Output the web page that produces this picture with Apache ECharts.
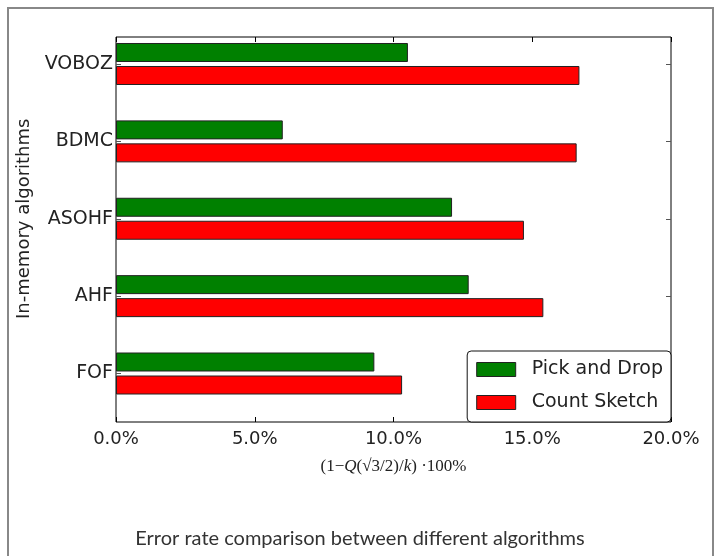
<!DOCTYPE html>
<html>
<head>
<meta charset="utf-8">
<script src="https://cdn.jsdelivr.net/npm/echarts@6/dist/echarts.min.js"></script>
<style>html,body{margin:0;padding:0;background:#fff;}#c{width:720px;height:556px;}</style>
</head>
<body>
<div id="c"></div>
<script>
const categories = ['FOF', 'AHF', 'ASOHF', 'BDMC', 'VOBOZ'];
const pickAndDrop = [9.31, 12.71, 12.11, 6.01, 10.52];
const countSketch = [10.31, 15.40, 14.70, 16.60, 16.70];
const seriesNames = ['Pick and Drop', 'Count Sketch'];
const xTicks = [0, 5, 10, 15, 20];

const chart = echarts.init(document.getElementById('c'), null, {renderer: 'canvas'});
const tickFont = 'DejaVu Sans';
const option = {
  animation: false,
  backgroundColor: '#fff',
  title: {
    text: 'Error rate comparison between different algorithms',
    left: 'center', top: 524,
    textStyle: {fontFamily: 'Lato', fontWeight: 'normal', fontSize: 20, color: '#333'}
  },
  graphic: [{
    type: 'rect', z: -10, silent: true,
    shape: {x: 8, y: 8, width: 705, height: 600},
    style: {fill: 'none', stroke: '#888', lineWidth: 2}
  }],
  legend: {
    data: seriesNames,
    orient: 'vertical', right: 49, bottom: 134,
    itemWidth: 39, itemHeight: 14, itemGap: 14,
    padding: [9, 8, 10, 9],
    borderColor: '#111', borderWidth: 1, borderRadius: 4,
    backgroundColor: '#fff',
    icon: 'rect',
    itemStyle: {borderColor: '#222', borderWidth: 1},
    textStyle: {fontFamily: tickFont, fontSize: 19, color: '#222', padding: [0, 0, 0, 11]}
  },
  grid: [
    {left: 116, right: 49, top: 37, bottom: 134, show: true, borderColor: '#000', borderWidth: 1, backgroundColor: 'transparent', containLabel: false},
    {left: 116, right: 49, top: 25.3, bottom: 143.8, containLabel: false}
  ],
  xAxis: [
    {
      gridIndex: 0, type: 'value', min: xTicks[0], max: xTicks[xTicks.length - 1], interval: 5, position: 'bottom',
      axisLine: {show: false},
      axisTick: {show: true, inside: true, length: 5, lineStyle: {color: '#000'}},
      axisLabel: {formatter: v => v.toFixed(1) + '%', fontFamily: tickFont, fontSize: 18, color: '#222', margin: 8},
      splitLine: {show: false},
      name: '{n|(1−}{i|Q}{n|(√}{o|3}{n|/2)/}{i|k}{n|) ·100%}',
      nameLocation: 'middle', nameGap: 36,
      nameTextStyle: {
        rich: {
          n: {fontFamily: 'Liberation Serif', fontSize: 17, color: '#222'},
          i: {fontFamily: 'Liberation Serif', fontStyle: 'italic', fontSize: 17, color: '#222'},
          o: {fontFamily: 'Liberation Serif', fontSize: 17, color: '#222'}
        }
      }
    },
    {
      gridIndex: 0, type: 'value', min: xTicks[0], max: xTicks[xTicks.length - 1], interval: 5, position: 'top',
      axisLine: {show: false},
      axisTick: {show: true, inside: true, length: 5, lineStyle: {color: '#000'}},
      axisLabel: {show: false}, splitLine: {show: false}
    },
    {
      gridIndex: 1, type: 'value', min: xTicks[0], max: xTicks[xTicks.length - 1], show: false
    }
  ],
  yAxis: [
    {gridIndex: 0, type: 'value', show: false},
    {
      gridIndex: 1, type: 'category', data: categories, position: 'left',
      axisLine: {show: false},
      axisTick: {show: true, inside: true, alignWithLabel: true, length: 5, lineStyle: {color: '#555'}},
      axisLabel: {fontFamily: tickFont, fontSize: 19, color: '#222', margin: 3},
      name: 'In-memory algorithms', nameLocation: 'middle', nameRotate: 90, nameGap: 77,
      nameTextStyle: {fontFamily: tickFont, fontSize: 18, color: '#222'}
    },
    {
      gridIndex: 1, type: 'category', data: categories, position: 'right',
      axisLine: {show: false},
      axisTick: {show: true, inside: true, alignWithLabel: true, length: 5, lineStyle: {color: '#555'}},
      axisLabel: {show: false}
    }
  ],
  series: [
    {
      name: seriesNames[0], type: 'bar', xAxisIndex: 2, yAxisIndex: 1, data: pickAndDrop,
      barWidth: 19, barGap: '21%',
      itemStyle: {color: '#008000', borderColor: '#222', borderWidth: 1}
    },
    {
      name: seriesNames[1], type: 'bar', xAxisIndex: 2, yAxisIndex: 1, data: countSketch,
      barWidth: 19, barGap: '21%',
      itemStyle: {color: '#ff0000', borderColor: '#222', borderWidth: 1}
    }
  ]
};
chart.setOption(option);
</script>
</body>
</html>
